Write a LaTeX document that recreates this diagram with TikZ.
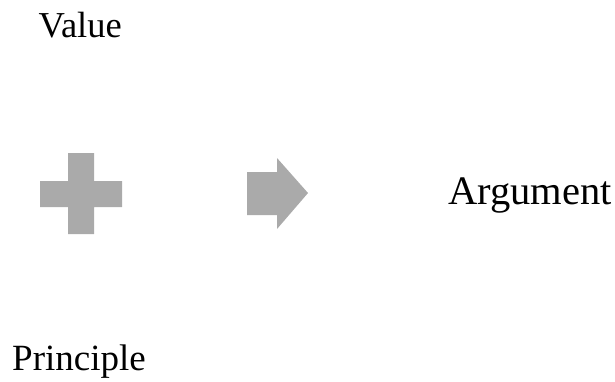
\documentclass[tikz,border=0pt]{standalone}
\usepackage{fontspec}
\setmainfont{Liberation Serif}
\definecolor{shapegray}{RGB}{170,170,170}
\begin{document}
\begin{tikzpicture}[x=1pt,y=-1pt,
  lbl/.style={anchor=base west,inner sep=0pt},
  glyph/.style={fill=shapegray,draw=none}]
\useasboundingbox (0,0) rectangle (615,381);
\node[lbl,font=\fontsize{36.5}{40}\selectfont] (value) at (38.5,37) {Value};
\node[lbl,font=\fontsize{37}{40}\selectfont] (principle) at (12,370) {Principle};
\node[lbl,font=\fontsize{40.5}{44}\selectfont] (argument) at (448,204) {Argument};
% plus sign
\path[glyph] (68,153) -- (94,153) -- (94,181) -- (122,181) -- (122,207) -- (94,207)
  -- (94,234) -- (68,234) -- (68,207) -- (40,207) -- (40,181) -- (68,181) -- cycle;
% block arrow
\path[glyph] (247,172) -- (277,172) -- (277,158) -- (308,193) -- (277,229)
  -- (277,215) -- (247,215) -- cycle;
\end{tikzpicture}
\end{document}
